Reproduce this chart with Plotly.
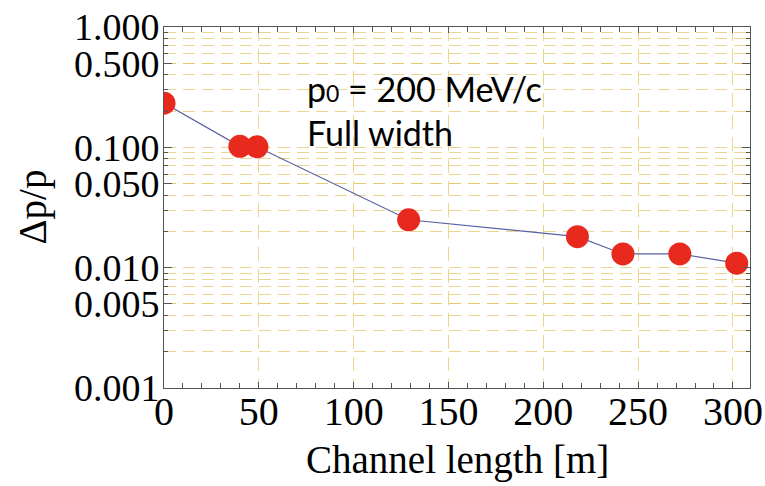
import plotly.graph_objects as go

# Data
channel_length = [0, 40, 49, 129, 218, 242, 272, 302]
dp_over_p = [0.233, 0.102, 0.101, 0.0250, 0.0181, 0.0130, 0.0130, 0.0109]

y_tick_vals = [0.001, 0.005, 0.01, 0.05, 0.1, 0.5, 1.0]
y_tick_text = ["0.001", "0.005", "0.010", "0.050", "0.100", "0.500", "1.000"]
y_minor_vals = [m * d for d in (0.001, 0.01, 0.1) for m in range(2, 10)]
x_tick_vals = [0, 50, 100, 150, 200, 250, 300]

grid_col = "rgba(230,195,95,0.7)"
axis_col = "#555555"

fig = go.Figure()
fig.add_trace(go.Scatter(
    x=channel_length, y=dp_over_p, mode="lines+markers",
    line=dict(color="#5b60a0", width=1.2),
    marker=dict(size=23, color="#e8291d"),
    cliponaxis=True, showlegend=False,
))

fig.update_layout(
    width=765, height=486,
    margin=dict(l=164, r=15, t=27, b=98),
    paper_bgcolor="white", plot_bgcolor="white",
    font=dict(family="Liberation Serif", color="black"),
    xaxis=dict(
        range=[0, 309], tickvals=x_tick_vals, automargin=False,
        ticks="inside", ticklen=6, tickcolor=axis_col,
        showline=True, linecolor=axis_col, linewidth=1, mirror="allticks",
        showgrid=True, gridcolor=grid_col, gridwidth=1, griddash="14px,8px",
        zeroline=False,
        tickfont=dict(family="Liberation Serif", size=40),
        ticklabelstandoff=-12,
        minor=dict(dtick=10, ticks="inside", ticklen=5, tickcolor=axis_col, showgrid=False),
    ),
    yaxis=dict(
        type="log", range=[-3, 0], automargin=False,
        tickvals=y_tick_vals, ticktext=y_tick_text,
        ticks="inside", ticklen=8, tickcolor=axis_col,
        showline=True, linecolor=axis_col, linewidth=1, mirror="allticks",
        showgrid=True, gridcolor=grid_col, gridwidth=1, griddash="12px,7px",
        zeroline=False,
        tickfont=dict(family="Liberation Serif", size=38),
        ticklabelstandoff=-4,
        minor=dict(tickvals=y_minor_vals, ticks="inside", ticklen=4, tickcolor=axis_col,
                   showgrid=True, gridcolor=grid_col, gridwidth=1, griddash="12px,7px"),
    ),
    annotations=[
        dict(text="Channel length [m]", xref="paper", yref="paper", x=0.5, y=0,
             yshift=-72, xanchor="center", yanchor="middle", showarrow=False,
             font=dict(family="Liberation Serif", size=39)),
        dict(text="Δp/p", xref="paper", yref="paper", x=0, y=0.5, xshift=-132,
             yshift=0, textangle=-90, xanchor="center", yanchor="middle", showarrow=False,
             font=dict(family="Liberation Serif", size=39)),
        dict(text='p<span style="font-size:23px">0</span> = 200 MeV/c<br>Full width',
             xref="paper", yref="paper", x=0.24, y=0.77, xanchor="left", yanchor="middle",
             align="left", showarrow=False,
             font=dict(family="Lato", size=34)),
    ],
)

fig.write_html("out.html")
